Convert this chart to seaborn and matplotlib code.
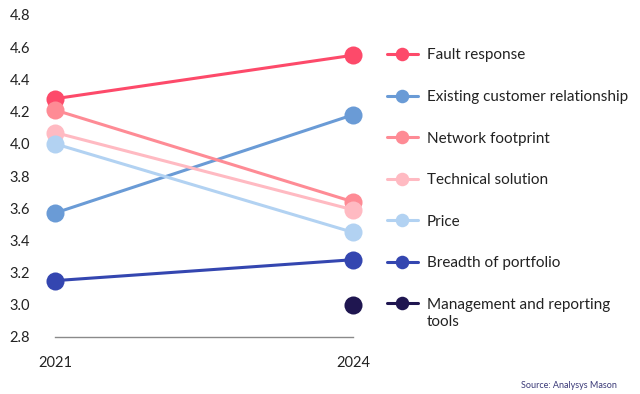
import pandas as pd
import matplotlib.pyplot as plt
import seaborn as sns

# Data
years = [2021, 2024]
factors = [
    "Fault response",
    "Existing customer relationship",
    "Network footprint",
    "Technical solution",
    "Price",
    "Breadth of portfolio",
    "Management and reporting tools",
]
scores_2021 = [4.28, 3.57, 4.21, 4.07, 4.00, 3.15, None]
scores_2024 = [4.55, 4.18, 3.64, 3.59, 3.45, 3.28, 3.00]
colors = ["#fd4a6a", "#6a9bd6", "#fe8b95", "#ffbac2", "#b2d2f2", "#3446b0", "#1f1650"]

rows = []
for f, a, b in zip(factors, scores_2021, scores_2024):
    rows.append({"Year": years[0], "Score": a, "Factor": f})
    rows.append({"Year": years[1], "Score": b, "Factor": f})
df = pd.DataFrame(rows).dropna()

sns.set_theme(style="white")
plt.rcParams["font.family"] = ["Lato", "DejaVu Sans"]

fig = plt.figure(figsize=(6.4, 3.94), dpi=100)
ax = fig.add_axes([55 / 640, 1 - 337 / 394, (353 - 55) / 640, (337 - 15) / 394])

sns.lineplot(
    data=df, x="Year", y="Score", hue="Factor", hue_order=factors,
    palette=dict(zip(factors, colors)), marker="o", markersize=13,
    markeredgewidth=0, linewidth=2.2, ax=ax, clip_on=False,
)

ax.set_xlim(2021, 2024)
ax.set_ylim(2.8, 4.8)
ax.set_xticks(years)
ax.set_xticklabels([str(y) for y in years])
ax.set_yticks([2.8, 3.0, 3.2, 3.4, 3.6, 3.8, 4.0, 4.2, 4.4, 4.6, 4.8])
ax.set_yticklabels(["2.8", "3.0", "3.2", "3.4", "3.6", "3.8", "4.0", "4.2", "4.4", "4.6", "4.8"])
ax.tick_params(axis="both", length=0, labelsize=10.5, colors="#222222")
ax.tick_params(axis="y", pad=18)
ax.tick_params(axis="x", pad=14)
ax.set_xlabel("")
ax.set_ylabel("")
for s in ["top", "right", "left"]:
    ax.spines[s].set_visible(False)
ax.spines["bottom"].set_color("#8a8a8a")
ax.spines["bottom"].set_linewidth(1)

leg = ax.legend(
    loc="upper left", bbox_to_anchor=(387 / 640, 1 - 48.5 / 394),
    bbox_transform=fig.transFigure, frameon=False, fontsize=11,
    labelspacing=1.8, handlelength=2.0, handletextpad=0.6,
    borderpad=0, borderaxespad=0, markerscale=0.75,
)
for t in leg.get_texts():
    t.set_color("#222222")

# wrap the last label like the original: second line sits under the first
last = leg.get_texts()[-1]
last.set_text("Management and reporting")
fig.canvas.draw()
bb = last.get_window_extent().transformed(fig.transFigure.inverted())
fig.text(bb.x0, bb.y0 - 0.01, "tools", ha="left", va="top", fontsize=11, color="#222222")

fig.text(617 / 640, 1 - 386 / 394, "Source: Analysys Mason", ha="right", va="center",
         fontsize=6.5, color="#3b3a78")

plt.savefig("out.png", dpi=100)
